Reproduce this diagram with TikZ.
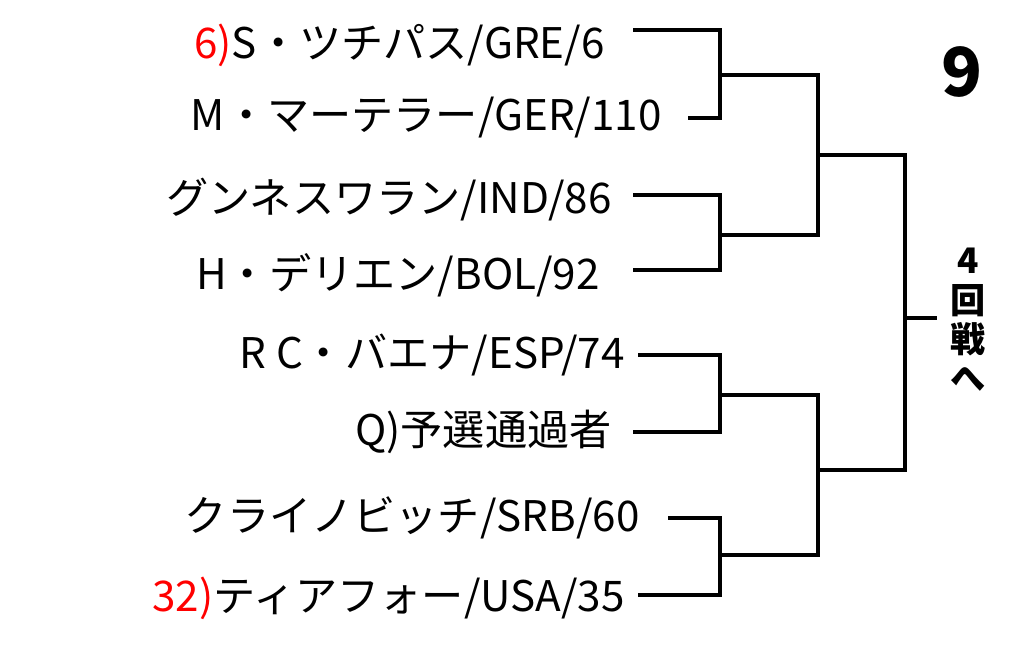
\documentclass[tikz,border=0pt]{standalone}
\usepackage{fontspec}
\setmainfont{Noto Sans CJK JP}
\begin{document}
\begin{tikzpicture}[x=0.025cm,y=-0.025cm,
  player/.style={anchor=east,inner sep=0pt,font=\fontsize{30}{32}\selectfont},
  wire/.style={line width=3.4pt,line cap=rect}]
	\useasboundingbox (0,0) rectangle (1024,647);
	% Spieler
	\node[player] (p1) at (605,45) {\textcolor{red}{6)}S・ツチパス/GRE/6};
	\node[player] (p2) at (662,118) {M・マーテラー/GER/110};
	\node[player] (p3) at (612,200) {グンネスワラン/IND/86};
	\node[player] (p4) at (600,275) {H・デリエン/BOL/92};
	\node[player] (p5) at (625,355) {R C・バエナ/ESP/74};
	\node[player] (p6) at (612,432) {Q)予選通過者};
	\node[player] (p7) at (640,518) {クライノビッチ/SRB/60};
	\node[player] (p8) at (625,598) {\textcolor{red}{32)}ティアフォー/USA/35};
	% Linien
	\coordinate (a1) at (635,30);  \coordinate (a2) at (690,118);
	\coordinate (a3) at (635,195); \coordinate (a4) at (635,270);
	\coordinate (a5) at (640,355); \coordinate (a6) at (635,432);
	\coordinate (a7) at (670,518); \coordinate (a8) at (640,595);
	\coordinate (m1) at (720,75);  \coordinate (m2) at (720,235);
	\coordinate (m3) at (720,395); \coordinate (m4) at (720,555);
	\coordinate (s1) at (818,155); \coordinate (s2) at (818,470);
	\coordinate (f) at (905,318);  \coordinate (out) at (935,318);
	\draw[wire] (a1) -| (m1) |- (a2);
	\draw[wire] (a3) -| (m2) |- (a4);
	\draw[wire] (a5) -| (m3) |- (a6);
	\draw[wire] (a7) -| (m4) |- (a8);
	\draw[wire] (m1) -| (s1) |- (m2);
	\draw[wire] (m3) -| (s2) |- (m4);
	\draw[wire] (s1) -| (f) |- (s2);
	\draw[wire] (f) -- (out);
	\node[font=\fontsize{48}{48}\selectfont\bfseries] (num) at (962,72) {9};
	\node[font=\fontsize{25}{28}\selectfont\bfseries,align=center] (next) at (968,320) {4\\回\\戦\\へ};
\end{tikzpicture}
\end{document}
